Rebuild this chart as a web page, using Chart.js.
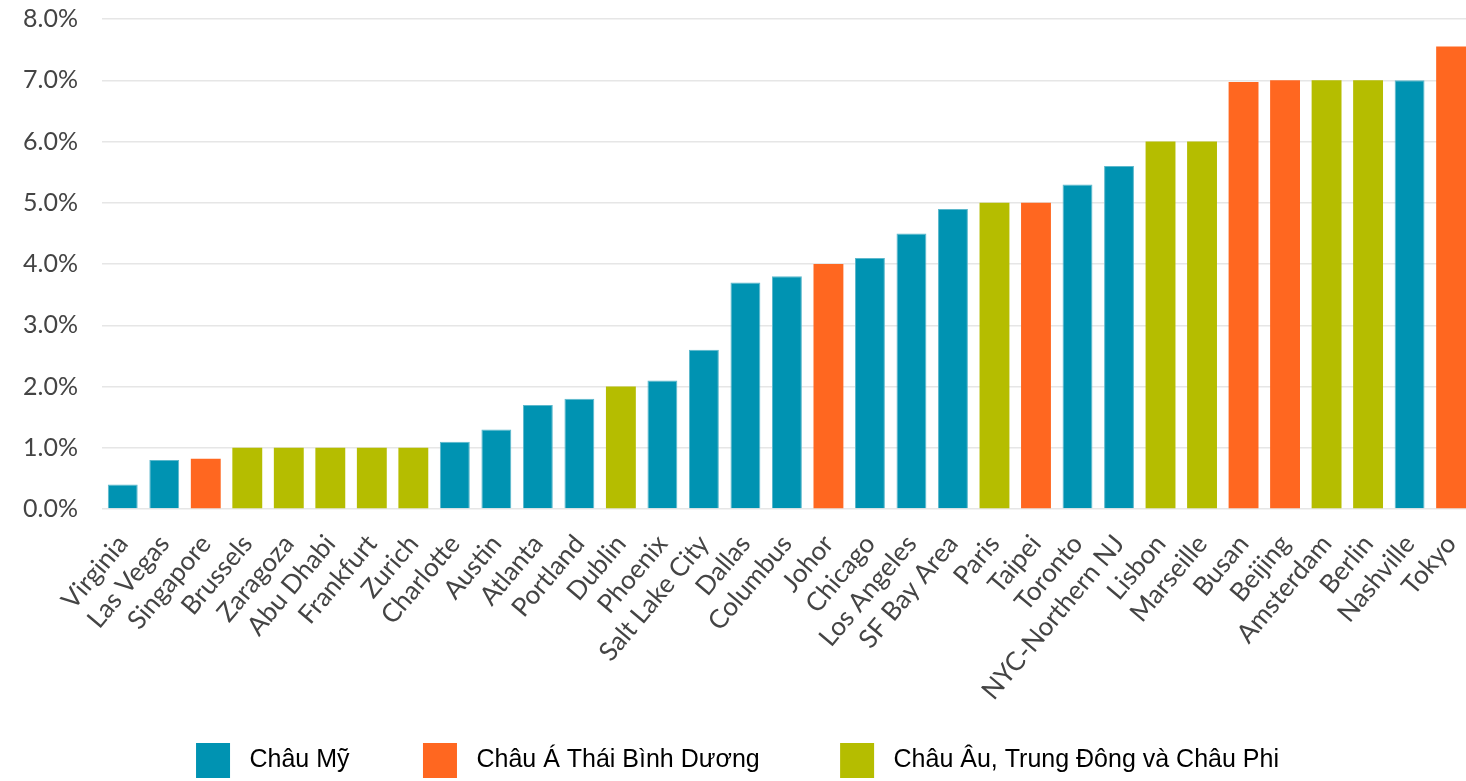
<!DOCTYPE html>
<html>
<head>
<meta charset="utf-8">
<script src="https://cdn.jsdelivr.net/npm/chart.js@4/dist/chart.umd.min.js"></script>
<style>
  html, body { margin: 0; padding: 0; background: #ffffff; overflow: hidden; }
  #wrap { width: 1466px; height: 781px; overflow: hidden; }
</style>
</head>
<body>
<div id="wrap"><canvas id="chart" width="1475" height="781"></canvas></div>
<script>
// Cities, ordered by value
const cities = [
  "Virginia", "Las Vegas", "Singapore", "Brussels", "Zaragoza", "Abu Dhabi",
  "Frankfurt", "Zurich", "Charlotte", "Austin", "Atlanta", "Portland",
  "Dublin", "Phoenix", "Salt Lake City", "Dallas", "Columbus", "Johor",
  "Chicago", "Los Angeles", "SF Bay Area", "Paris", "Taipei", "Toronto",
  "NYC-Northern NJ", "Lisbon", "Marseille", "Busan", "Beijing", "Amsterdam",
  "Berlin", "Nashville", "Tokyo"
];

// Percentage value per city
const values = [
  0.4, 0.8, 0.82, 1.0, 1.0, 1.0,
  1.0, 1.0, 1.1, 1.3, 1.7, 1.8,
  2.0, 2.1, 2.6, 3.7, 3.8, 4.0,
  4.1, 4.5, 4.9, 5.0, 5.0, 5.3,
  5.6, 6.0, 6.0, 6.97, 7.0, 7.0,
  7.0, 7.0, 7.55
];

// Region index per city (0 = Americas, 1 = Asia Pacific, 2 = EMEA)
const regionOf = [
  0, 0, 1, 2, 2, 2,
  2, 2, 0, 0, 0, 0,
  2, 0, 0, 0, 0, 1,
  0, 0, 0, 2, 1, 0,
  0, 2, 2, 1, 1, 2,
  2, 0, 1
];

const regionNames = ["Châu Mỹ", "Châu Á Thái Bình Dương", "Châu Âu, Trung Đông và Châu Phi"];
const regionColors = ["#0093B2", "#FF6720", "#B5BD00"];
const regionEdges = ["#5CB8CC", "#FF6720", "#B5BD00"];

const yTicks = [0, 1, 2, 3, 4, 5, 6, 7, 8];

// One dataset per region; other cities left empty so bars stay centred
const datasets = regionNames.map((name, r) => ({
  label: name,
  data: values.map((v, i) => (regionOf[i] === r ? v : null)),
  backgroundColor: regionColors[r],
  borderColor: regionEdges[r],
  borderWidth: r === 0 ? { top: 1, left: 1, right: 1, bottom: 0 } : 0,
  borderSkipped: false,
  grouped: false,
  categoryPercentage: 1.0,
  barPercentage: 0.72
}));

const yFont = { family: "Lato, 'Open Sans', sans-serif", size: 25 };
const xFont = { family: "Lato, 'Open Sans', sans-serif", size: 26 };
const legendFont = { family: "'Liberation Sans', Arial, sans-serif", size: 25 };
// trailing spaces widen the gap after each legend entry
const legendGaps = [" ".repeat(10), " ".repeat(11), ""];

new Chart(document.getElementById("chart"), {
  type: "bar",
  data: { labels: cities, datasets },
  options: {
    responsive: false,
    animation: false,
    layout: { padding: { top: 0, right: 0, left: 0, bottom: -7 } },
    scales: {
      x: {
        grid: {
          display: true,
          drawOnChartArea: false,
          drawTicks: true,
          tickLength: 20,
          tickColor: "rgba(0,0,0,0)"
        },
        border: { display: false },
        ticks: {
          color: "#444444",
          font: xFont,
          minRotation: 50,
          maxRotation: 50,
          autoSkip: false,
          padding: 0
        },
        afterFit: (scale) => { scale.height = 230; }
      },
      y: {
        min: 0,
        max: 8,
        afterBuildTicks: (axis) => { axis.ticks = yTicks.map(v => ({ value: v })); },
        grid: {
          color: "#E6E6E6",
          lineWidth: 1.5,
          drawTicks: true,
          tickLength: 20,
          tickColor: "rgba(0,0,0,0)"
        },
        border: { display: false },
        ticks: {
          color: "#444444",
          font: yFont,
          padding: 4,
          callback: (v) => v.toFixed(1) + "%"
        },
        afterFit: (scale) => { scale.width = 102; }
      }
    },
    plugins: {
      tooltip: { enabled: false },
      legend: {
        position: "bottom",
        labels: {
          boxWidth: 34,
          boxHeight: 35,
          padding: 4,
          color: "#333333",
          font: legendFont,
          generateLabels: () => regionNames.map((name, r) => ({
            text: " " + name + legendGaps[r],
            fillStyle: regionColors[r],
            strokeStyle: regionColors[r],
            lineWidth: 0,
            datasetIndex: r,
            hidden: false
          }))
        }
      }
    }
  }
});
</script>
</body>
</html>
